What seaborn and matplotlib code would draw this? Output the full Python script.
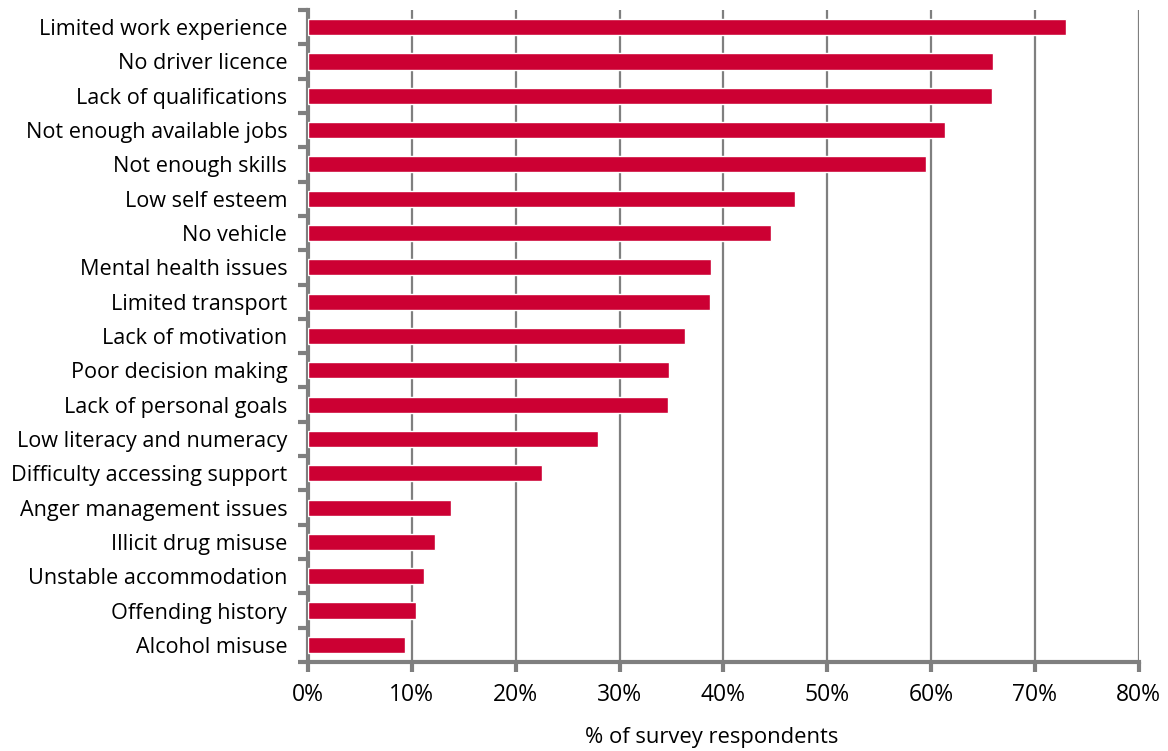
import matplotlib
matplotlib.use("Agg")
import matplotlib.pyplot as plt
import seaborn as sns
import pandas as pd
import numpy as np
from matplotlib.ticker import PercentFormatter, FixedLocator

barriers = [
    "Limited work experience", "No driver licence", "Lack of qualifications",
    "Not enough available jobs", "Not enough skills", "Low self esteem",
    "No vehicle", "Mental health issues", "Limited transport",
    "Lack of motivation", "Poor decision making", "Lack of personal goals",
    "Low literacy and numeracy", "Difficulty accessing support",
    "Anger management issues", "Illicit drug misuse", "Unstable accommodation",
    "Offending history", "Alcohol misuse",
]
pct = [73.0, 66.0, 65.9, 61.3, 59.5, 46.9, 44.6, 38.8, 38.7, 36.3,
       34.8, 34.7, 27.9, 22.5, 13.8, 12.2, 11.2, 10.4, 9.3]

df = pd.DataFrame({"barrier": barriers, "pct": pct})

sns.set_style("white", {"xtick.bottom": True, "ytick.left": True,
                        "text.color": "black", "axes.labelcolor": "black",
                        "xtick.color": "black", "ytick.color": "black"})
plt.rcParams["font.family"] = ["Open Sans", "DejaVu Sans"]

grey = "#7f7f7f"
fig = plt.figure(figsize=(11.68, 7.51), dpi=100)
ax = fig.add_axes([0.2637, 0.1185, 0.7113, 0.8682])

sns.barplot(data=df, y="barrier", x="pct", color="#CC0033", width=0.47,
            saturation=1, ax=ax, zorder=3)

ax.set_xlim(0, 80)
ax.set_ylim(len(barriers) - 0.5, -0.5)
ax.xaxis.set_major_locator(FixedLocator(np.arange(0, 81, 10)))
ax.xaxis.set_major_formatter(PercentFormatter(decimals=0))
ax.grid(axis="x", color=grey, linewidth=1.6, zorder=0)
ax.set_axisbelow(True)

for s in ["top", "right"]:
    ax.spines[s].set_visible(False)
for s in ["left", "bottom"]:
    ax.spines[s].set_color(grey)
    ax.spines[s].set_linewidth(3)

ax.set_yticks(np.arange(len(barriers)))
ax.set_yticks(np.arange(len(barriers) + 1) - 0.5, minor=True)
ax.tick_params(axis="y", which="major", left=False, length=0,
               labelsize=15.6, pad=15)
ax.tick_params(axis="y", which="minor", left=True, length=7, width=3,
               color=grey)
ax.tick_params(axis="x", which="major", bottom=True, length=7, width=3,
               color=grey, labelcolor="black", labelsize=16.5, pad=8)

ax.set_ylabel("")
ax.set_xlabel("% of survey respondents", fontsize=15.8)
ax.xaxis.set_label_coords(0.486, -0.099)

fig.savefig("out.png", dpi=100)
